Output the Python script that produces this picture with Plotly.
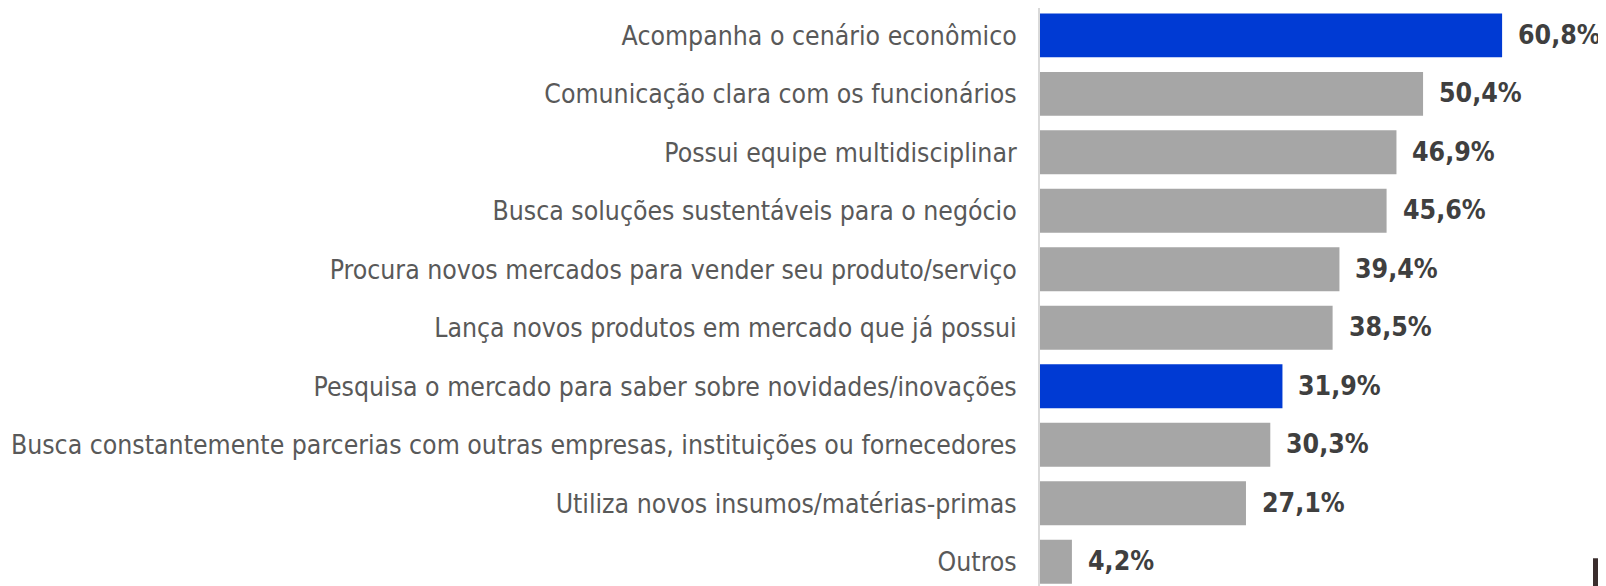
import plotly.graph_objects as go

categories = [
    "Acompanha o cenário econômico",
    "Comunicação clara com os funcionários",
    "Possui equipe multidisciplinar",
    "Busca soluções sustentáveis para o negócio",
    "Procura novos mercados para vender seu produto/serviço",
    "Lança novos produtos em mercado que já possui",
    "Pesquisa o mercado para saber sobre novidades/inovações",
    "Busca constantemente parcerias com outras empresas, instituições ou fornecedores",
    "Utiliza novos insumos/matérias-primas",
    "Outros",
]
values = [60.8, 50.4, 46.9, 45.6, 39.4, 38.5, 31.9, 30.3, 27.1, 4.2]
highlighted = ["Acompanha o cenário econômico",
               "Pesquisa o mercado para saber sobre novidades/inovações"]

BLUE = "#003AD3"
GRAY = "#A6A6A6"
colors = [BLUE if c in highlighted else GRAY for c in categories]
labels = [f"{v:.1f}%".replace(".", ",") for v in values]

FONT = "DejaVu Sans Condensed, DejaVu Sans, sans-serif"

fig = go.Figure(go.Bar(
    x=values, y=categories, orientation="h",
    marker=dict(color=colors, line=dict(width=0)),
    hoverinfo="skip",
))

for c, v, t in zip(categories, values, labels):
    fig.add_annotation(x=v, y=c, text=f"<b>{t}</b>", showarrow=False,
                       xanchor="left", yanchor="middle", xshift=14, yshift=1,
                       font=dict(family=FONT, size=26.5, color="#3F3F3F"))

# small dark corner element visible at bottom-right of the reference
fig.add_shape(type="rect", xref="paper", yref="paper",
              x0=0.977, x1=1.0, y0=0, y1=0.048,
              fillcolor="#3B2E2E", line=dict(width=0), layer="above")

fig.update_layout(
    width=1598, height=578,
    margin=dict(l=1032, r=0, t=0, b=0, autoexpand=False),
    paper_bgcolor="white", plot_bgcolor="white",
    bargap=0.25, showlegend=False,
    xaxis=dict(range=[0, 74.47], visible=False, fixedrange=True, automargin=False),
    yaxis=dict(
        type="category", categoryorder="array", categoryarray=categories,
        range=[9.414, -0.467], automargin=False,
        showline=True, linecolor="#D9D9D9", linewidth=2,
        showgrid=False, ticks="", ticklabelstandoff=16,
        tickfont=dict(family=FONT, size=26.4, color="#595959"),
    ),
)

fig.write_html("out.html")
